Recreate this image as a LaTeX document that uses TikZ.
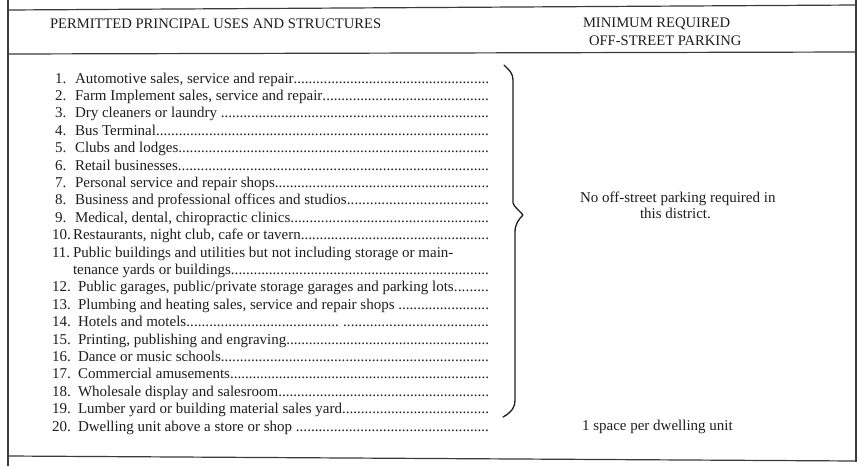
\documentclass[tikz,border=0pt]{standalone}
\usepackage{fontspec}
\setmainfont{Liberation Serif}
\newcommand\dotsfill{\xleaders\hbox{.}\hfill}
\newcommand\rowfont{\fontsize{15}{17.4}\selectfont}
\newcommand\headfont{\fontsize{14.6}{17}\selectfont}
\definecolor{ink}{HTML}{1E1E1E}
\definecolor{rule}{HTML}{3A3A3A}
\begin{document}
\begin{tikzpicture}[x=1pt,y=-1pt,
  txt/.style={anchor=base west,inner sep=0pt,outer sep=0pt,font=\rowfont,text=ink},
  head/.style={anchor=base west,inner sep=0pt,outer sep=0pt,font=\headfont,text=ink},
  frame/.style={draw=rule,line width=1.2pt},
  bracepath/.style={draw=ink,line width=1.3pt,line cap=round,line join=round}]
\useasboundingbox[fill=white] (0,0) rectangle (862,466);
% frame
\draw[frame] (8,0) -- (8,466);
\draw[frame] (856,0) -- (856,462);
\draw[frame] (8,10) -- (856,5);
\draw[frame] (8,54) -- (856,52);
\draw[frame] (8,456) -- (856,461);
% header
\node[head] (h1) at (50,28) {PERMITTED PRINCIPAL USES AND STRUCTURES};
\node[head] (h2) at (583,27) {MINIMUM REQUIRED};
\node[head] (h3) at (589,45.5) {OFF-STREET PARKING};
% rows: baseline = 83 + 17.4*k
\node[txt] (n1)  at (55,83.0)  {1.};
\node[txt] (t1)  at (75,83.0)  {\hbox to 414pt{Automotive sales, service and repair\dotsfill}};
\node[txt] (n2)  at (55,100.4) {2.};
\node[txt] (t2)  at (75,100.4) {\hbox to 414pt{Farm Implement sales, service and repair\dotsfill}};
\node[txt] (n3)  at (55,117.8) {3.};
\node[txt] (t3)  at (75,117.8) {\hbox to 414pt{Dry cleaners or laundry \dotsfill}};
\node[txt] (n4)  at (55,135.2) {4.};
\node[txt] (t4)  at (75,135.2) {\hbox to 414pt{Bus Terminal\dotsfill}};
\node[txt] (n5)  at (55,152.6) {5.};
\node[txt] (t5)  at (75,152.6) {\hbox to 414pt{Clubs and lodges\dotsfill}};
\node[txt] (n6)  at (55,170.0) {6.};
\node[txt] (t6)  at (75,170.0) {\hbox to 414pt{Retail businesses\dotsfill}};
\node[txt] (n7)  at (55,187.4) {7.};
\node[txt] (t7)  at (75,187.4) {\hbox to 414pt{Personal service and repair shops\dotsfill}};
\node[txt] (n8)  at (55,204.8) {8.};
\node[txt] (t8)  at (75,204.8) {\hbox to 414pt{Business and professional offices and studios\dotsfill}};
\node[txt] (n9)  at (55,222.2) {9.};
\node[txt] (t9)  at (75,222.2) {\hbox to 414pt{Medical, dental, chiropractic clinics\dotsfill}};
\node[txt] (n10) at (52,239.6) {10.};
\node[txt] (t10) at (73,239.6) {\hbox to 416pt{Restaurants, night club, cafe or tavern\dotsfill}};
\node[txt] (n11) at (52,257.0) {11.};
\node[txt] (t11) at (73,257.0) {Public buildings and utilities but not including storage or main-};
\node[txt] (t11b) at (73,274.4) {\hbox to 416pt{tenance yards or buildings\dotsfill}};
\node[txt] (n12) at (52,291.8) {12.};
\node[txt] (t12) at (78,291.8) {\hbox to 411pt{Public garages, public/private storage garages and parking lots\dotsfill}};
\node[txt] (n13) at (52,309.2) {13.};
\node[txt] (t13) at (78,309.2) {\hbox to 411pt{Plumbing and heating sales, service and repair shops \dotsfill}};
\node[txt] (n14) at (52,326.6) {14.};
\node[txt] (t14) at (78,326.6) {\hbox to 411pt{Hotels and motels\dotsfill\hskip4pt\xleaders\hbox{.}\hskip146pt}};
\node[txt] (n15) at (52,344.0) {15.};
\node[txt] (t15) at (78,344.0) {\hbox to 411pt{Printing, publishing and engraving\dotsfill}};
\node[txt] (n16) at (52,361.4) {16.};
\node[txt] (t16) at (78,361.4) {\hbox to 411pt{Dance or music schools\dotsfill}};
\node[txt] (n17) at (52,378.8) {17.};
\node[txt] (t17) at (78,378.8) {\hbox to 411pt{Commercial amusements\dotsfill}};
\node[txt] (n18) at (52,396.2) {18.};
\node[txt] (t18) at (78,396.2) {\hbox to 411pt{Wholesale display and salesroom\dotsfill}};
\node[txt] (n19) at (52,413.6) {19.};
\node[txt] (t19) at (78,413.6) {\hbox to 411pt{Lumber yard or building material sales yard\dotsfill}};
\node[txt] (n20) at (52,431.0) {20.};
\node[txt] (t20) at (78,431.0) {\hbox to 411pt{Dwelling unit above a store or shop \dotsfill}};
% brace
\draw[bracepath] (504,65) .. controls (509,70) and (513,73) .. (513,80)
  -- (513,203) .. controls (514,207) and (520,211) .. (523,215)
  .. controls (519,219) and (515,224) .. (515,232)
  -- (515,400) .. controls (515,409) and (509,414) .. (503,417);
% right column
\node[txt] (p1) at (580,202) {No off-street parking required in};
\node[txt] (p2) at (640,218.5) {this district.};
\node[txt] (p3) at (582,430) {1 space per dwelling unit};
\end{tikzpicture}
\end{document}
